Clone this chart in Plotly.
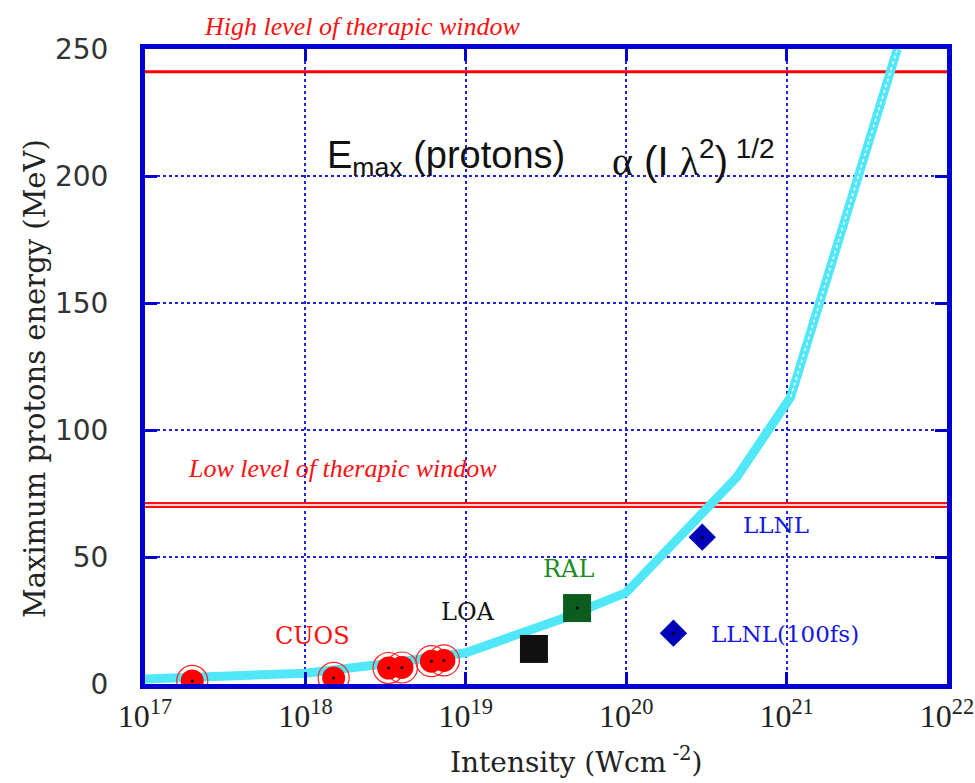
import plotly.graph_objects as go

# ---------------- data ----------------
curve_I = [1e17, 1e18, 3e18, 1e19, 3.9e19, 1e20, 4.9e20, 1.06e21, 4.9e21]
curve_E = [2.0, 4.2, 7.8, 12.3, 25.5, 36.0, 81.5, 113.0, 250.0]

cuos_I = [1.97e17, 1.5e18, 3.3e18, 4.0e18, 6.1e18, 7.3e18]
cuos_E = [1.2, 2.4, 6.3, 6.5, 9.0, 9.3]

loa_I = [2.66e19]
loa_E = [13.8]

ral_I = [4.94e19]
ral_E = [29.9]

llnl_I = [2.98e20]
llnl_E = [57.8]

llnl100_I = [1.97e20]
llnl100_E = [20.0]

high_level = 241.0
low_level = 70.5

x_tickvals = [1e17, 1e18, 1e19, 1e20, 1e21, 1e22]
x_ticktext = ["10<sup>17</sup>", "10<sup>18</sup>", "10<sup>19</sup>",
              "10<sup>20</sup>", "10<sup>21</sup>", "10<sup>22</sup>"]
y_tickvals = [0, 50, 100, 150, 200, 250]

# ---------------- layout helpers ----------------
W, H = 975, 783
# plot area in window pixels
L, R, T, B = 145, 947, 49, 684


def px(x):
    return (x - L) / (R - L)


def py(y):
    return (B - y) / (B - T)


BLUE = "#0000d0"
fig = go.Figure()

# threshold lines
fig.add_trace(go.Scatter(x=[1e17, 1e22], y=[high_level, high_level], mode="lines",
                         line=dict(color="#ff0000", width=3), hoverinfo="skip"))
fig.add_trace(go.Scatter(x=[1e17, 1e22], y=[low_level, low_level], mode="lines",
                         line=dict(color="#ff1010", width=6), hoverinfo="skip"))
fig.add_trace(go.Scatter(x=[1e17, 1e22], y=[low_level, low_level], mode="lines",
                         line=dict(color="#ffd0d0", width=2), hoverinfo="skip"))

# scaling curve
fig.add_trace(go.Scatter(x=curve_I, y=curve_E, mode="lines",
                         line=dict(color="#50e8f8", width=9), hoverinfo="skip"))
fig.add_trace(go.Scatter(x=curve_I[-2:], y=curve_E[-2:], mode="lines",
                         line=dict(color="#ffffff", width=1.5, dash="dot"), hoverinfo="skip"))

# CUOS points
fig.add_trace(go.Scatter(x=cuos_I, y=cuos_E, mode="markers",
                         marker=dict(symbol="circle-open", size=31, color="#ff2020",
                                     line=dict(width=1.2, color="#ff2020"))))
fig.add_trace(go.Scatter(x=cuos_I, y=cuos_E, mode="markers",
                         marker=dict(symbol="circle", size=23, color="#ff0000",
                                     line=dict(width=0))))
# LOA
fig.add_trace(go.Scatter(x=loa_I, y=loa_E, mode="markers",
                         marker=dict(symbol="square", size=28, color="#101010",
                                     line=dict(width=0))))
# RAL
fig.add_trace(go.Scatter(x=ral_I, y=ral_E, mode="markers",
                         marker=dict(symbol="square", size=28, color="#0b5c1e",
                                     line=dict(width=0))))
# LLNL
fig.add_trace(go.Scatter(x=llnl_I + llnl100_I, y=llnl_E + llnl100_E, mode="markers",
                         marker=dict(symbol="diamond", size=21, color="#0000b8",
                                     line=dict(width=0))))
# small centre dots
fig.add_trace(go.Scatter(x=cuos_I + ral_I + llnl_I + llnl100_I,
                         y=cuos_E + ral_E + llnl_E + llnl100_E, mode="markers",
                         marker=dict(symbol="circle", size=3, color="#000000")))

ann = []


def add_text(x, y, text, size, color, family, xanchor="center", yanchor="middle", angle=0):
    ann.append(dict(x=px(x), y=py(y), xref="paper", yref="paper", text=text,
                    showarrow=False, xanchor=xanchor, yanchor=yanchor, textangle=angle,
                    font=dict(size=size, color=color, family=family)))


add_text(362, 27, "<i>High level of therapic window</i>", 26, "#ff1010", "Liberation Serif")
add_text(342, 469, "<i>Low level of therapic window</i>", 26, "#ff1010", "Liberation Serif")
add_text(325, 158, "E<sub>max</sub> (protons)", 38, "#111111", "Liberation Sans", xanchor="left")
add_text(610, 158,
         "<span style='font-family:Liberation Serif'>α</span> (I <span style='font-family:Liberation Serif'>λ</span><sup>2</sup>)<sup> 1/2</sup>",
         40, "#111111", "Liberation Sans", xanchor="left")
add_text(312, 636, "CUOS", 24, "#ff1010", "DejaVu Serif")
add_text(468, 612, "LOA", 24, "#111111", "DejaVu Serif")
add_text(568, 569, "RAL", 24, "#1e8c1e", "DejaVu Serif")
add_text(776, 525, "LLNL", 23, "#1515e0", "DejaVu Serif")
add_text(785, 634, "LLNL(100fs)", 23, "#1515e0", "DejaVu Serif")
add_text(35, 379, "Maximum protons energy (MeV)", 29, "#222222", "DejaVu Serif", angle=-90)
add_text(576, 760, "Intensity (Wcm<sup> -2</sup>)", 28, "#222222", "DejaVu Serif")

fig.update_layout(
    width=W, height=H,
    margin=dict(l=L, r=W - R, t=T, b=H - B, autoexpand=False),
    paper_bgcolor="white", plot_bgcolor="white",
    showlegend=False,
    annotations=ann,
    xaxis=dict(type="log", range=[17, 22], tickvals=x_tickvals, ticktext=x_ticktext,
               showline=True, linecolor=BLUE, linewidth=5, mirror="ticks",
               ticks="inside", ticklen=12, tickwidth=3, tickcolor=BLUE,
               showgrid=True, gridcolor="#2020e0", gridwidth=1.5, griddash="dot",
               zeroline=False, ticklabeloverflow="allow", automargin=False,
               tickfont=dict(family="Liberation Serif", size=32, color="#222222")),
    yaxis=dict(range=[0, 250], tickvals=y_tickvals,
               showline=True, linecolor=BLUE, linewidth=5, mirror="ticks",
               ticks="inside", ticklen=12, tickwidth=3, tickcolor=BLUE,
               showgrid=True, gridcolor="#2020e0", gridwidth=1.5, griddash="dot",
               zeroline=False, ticklabelstandoff=26, automargin=False,
               tickfont=dict(family="DejaVu Sans", size=28, color="#333333")),
)

fig.write_html("out.html", config={"displayModeBar": False},
               post_script="document.body.style.margin='0';document.body.style.overflow='hidden';")
